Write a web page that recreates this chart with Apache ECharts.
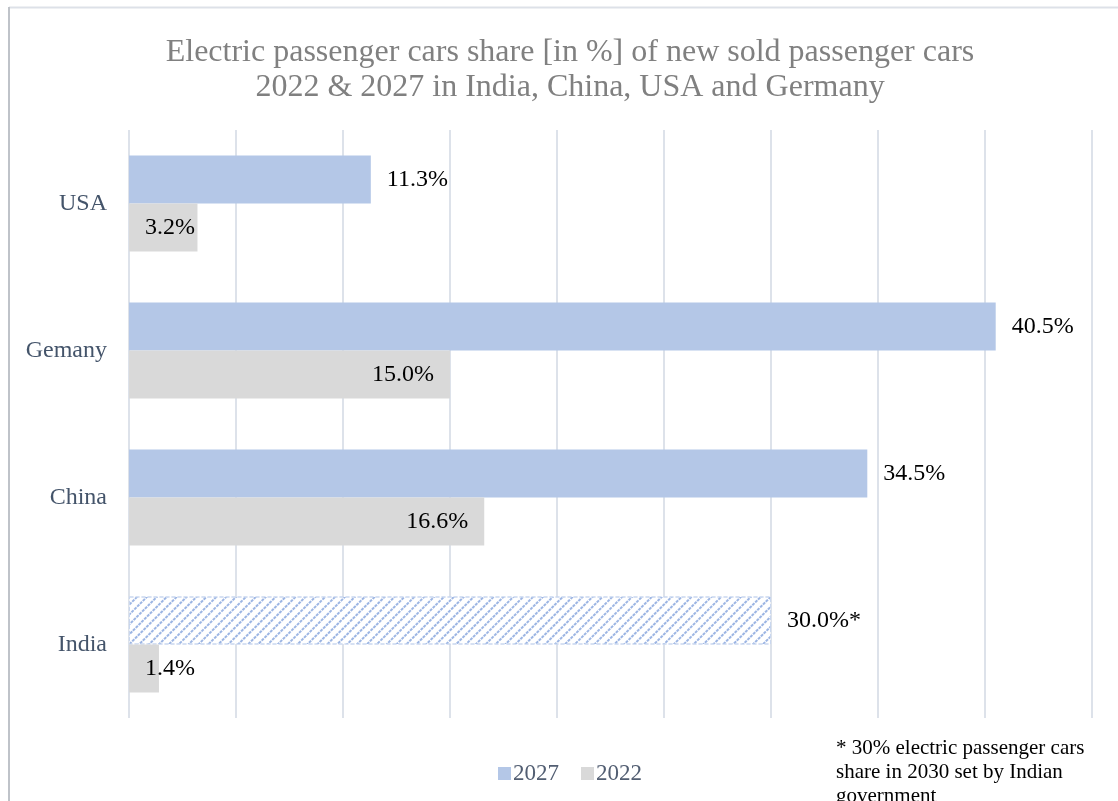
<!DOCTYPE html>
<html>
<head>
<meta charset="utf-8">
<script src="https://cdn.jsdelivr.net/npm/echarts@6/dist/echarts.min.js"></script>
<style>
html,body{margin:0;padding:0;background:#fff;}
#chart{width:1118px;height:801px;}
</style>
</head>
<body>
<div id="chart"></div>
<script>
var categories = ['India', 'China', 'Gemany', 'USA'];
var values2027 = [30.0, 34.5, 40.5, 11.3];
var values2022 = [1.4, 16.6, 15.0, 3.2];
var labels2027 = ['30.0%*', '34.5%', '40.5%', '11.3%'];
var labels2022 = ['1.4%', '16.6%', '15.0%', '3.2%'];
var seriesNames = ['2027', '2022'];
var titleLines = ['Electric passenger cars share [in %] of new sold passenger cars', '2022 & 2027 in India, China, USA and Germany'];
var footnoteLines = ['* 30% electric passenger cars', 'share in 2030 set by Indian', 'government'];

var serif = '"Liberation Serif", "Times New Roman", serif';
var chart = echarts.init(document.getElementById('chart'));

var data2027 = values2027.map(function (v, i) {
  var d = { value: v, label: { formatter: labels2027[i] } };
  if (categories[i] === 'India') {
    d.itemStyle = {
      color: '#ffffff',
      borderColor: '#c9d7ef',
      borderWidth: 1,
      borderType: 'dashed',
      decal: {
        symbol: 'rect',
        symbolSize: 1,
        color: '#9cb5e3',
        dashArrayX: [3, 1],
        dashArrayY: [2, 5],
        rotation: -Math.PI / 4
      }
    };
  }
  return d;
});
var data2022 = values2022.map(function (v, i) {
  var d = { value: v, label: { formatter: labels2022[i] } };
  if (v < 5) {
    d.label.position = 'insideLeft';
    d.label.distance = 16;
  }
  return d;
});

chart.setOption({
  animation: false,
  backgroundColor: '#ffffff',
  title: {
    text: titleLines.join('\n'),
    left: 565,
    top: 30,
    textAlign: 'center',
    textStyle: { fontFamily: serif, fontSize: 32, fontWeight: 'normal', color: '#808080', lineHeight: 35 }
  },
  legend: {
    data: seriesNames,
    left: 493,
    top: 757,
    itemWidth: 13,
    itemHeight: 13,
    itemGap: 22,
    icon: 'rect',
    textStyle: { fontFamily: serif, fontSize: 23, color: '#525e72', padding: [0, 0, 0, -3] }
  },
  grid: { left: 129, right: 26, top: 130, bottom: 83, containLabel: false },
  xAxis: {
    type: 'value',
    min: 0,
    max: 45,
    interval: 5,
    axisLabel: { show: false },
    axisLine: { show: false },
    axisTick: { show: false },
    splitLine: { show: true, lineStyle: { color: '#dde2ea', width: 2 } }
  },
  yAxis: {
    type: 'category',
    data: categories,
    axisLine: { show: false },
    axisTick: { show: false },
    axisLabel: { fontFamily: serif, fontSize: 24, color: '#44546a', margin: 22 }
  },
  graphic: [
    { type: 'line', shape: { x1: 9, y1: 7.5, x2: 1118, y2: 7.5 }, style: { stroke: '#dde1e8', lineWidth: 2 } },
    { type: 'line', shape: { x1: 9, y1: 7, x2: 9, y2: 801 }, style: { stroke: '#bfc3c9', lineWidth: 2 } },
    {
      type: 'text',
      left: 836,
      top: 736,
      style: { text: footnoteLines.join('\n'), fontFamily: serif, fontSize: 21, lineHeight: 24, fill: '#000000' }
    }
  ],
  series: [
    {
      name: '2027',
      type: 'bar',
      barWidth: 48,
      barGap: '0%',
      itemStyle: { color: '#b4c7e7' },
      label: { show: true, position: 'right', distance: 16, fontFamily: serif, fontSize: 24, color: '#000000' },
      data: data2027
    },
    {
      name: '2022',
      type: 'bar',
      barWidth: 48,
      barGap: '0%',
      itemStyle: { color: '#d9d9d9' },
      label: { show: true, position: 'insideRight', distance: 16, fontFamily: serif, fontSize: 24, color: '#000000' },
      data: data2022
    }
  ]
});
</script>
</body>
</html>
